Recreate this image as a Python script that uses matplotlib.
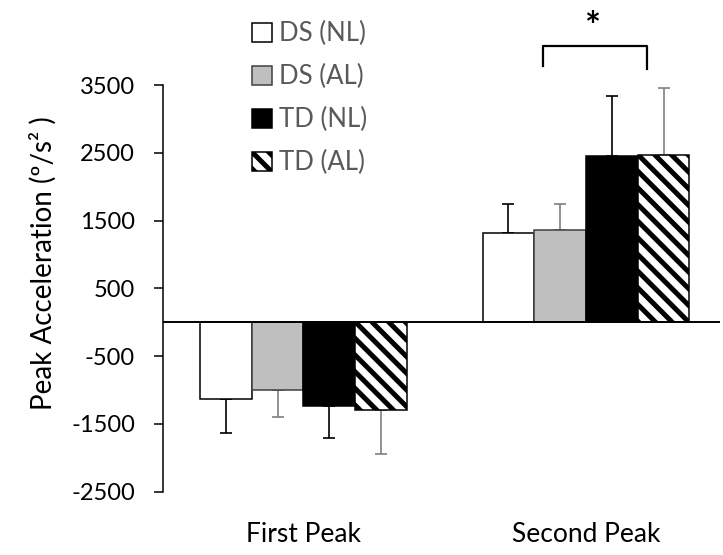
import matplotlib
matplotlib.use("Agg")
import matplotlib.pyplot as plt
import numpy as np

plt.rcParams['font.family'] = ['Lato', 'DejaVu Sans']
plt.rcParams['hatch.linewidth'] = 3.6

# Data
categories = ["First Peak", "Second Peak"]
series_names = ["DS (NL)", "DS (AL)", "TD (NL)", "TD (AL)"]
ds_nl = [-1130, 1316]
ds_al = [-1006, 1354]
td_nl = [-1242, 2446]
td_al = [-1290, 2460]
ds_nl_err = [497, 432]
ds_al_err = [392, 394]
td_nl_err = [466, 885]
td_al_err = [650, 1003]
y_ticks = [-2500, -1500, -500, 500, 1500, 2500, 3500]

values = [ds_nl, ds_al, td_nl, td_al]
errors = [ds_nl_err, ds_al_err, td_nl_err, td_al_err]

# Styles
face = ["white", "#BFBFBF", "black", "white"]
edge = ["black", "#404040", "black", "black"]
hatches = [None, None, None, "\\\\"]
err_col = ["black", "#7F7F7F", "black", "#7F7F7F"]

fig = plt.figure(figsize=(7.23, 5.55), dpi=100)
ax = fig.add_axes([163 / 723, (555 - 491.7) / 555, (720 - 163) / 723, (491.7 - 85) / 555])

x = np.arange(len(categories))
w = 0.183
handles = []
for i in range(4):
    pos = x + (i - 1.5) * w
    vals = np.array(values[i])
    errs = np.array(errors[i])
    b = ax.bar(pos, vals, width=w, color=face[i], edgecolor=edge[i],
               linewidth=1.1, hatch=hatches[i], zorder=2, label=series_names[i])
    handles.append(b)
    # one-sided error bars pointing away from zero
    lower = np.where(vals < 0, errs, 0)
    upper = np.where(vals > 0, errs, 0)
    ax.errorbar(pos, vals, yerr=[lower, upper], fmt="none", ecolor=err_col[i],
                elinewidth=1.2, capsize=4.5, capthick=1.2, zorder=1)

ax.axhline(0, color="black", linewidth=1.4, zorder=3)

ax.set_xlim(-0.497, 1.474)
ax.set_ylim(-2500, 3500)
ax.set_yticks(y_ticks)
ax.set_yticklabels([str(t) for t in y_ticks])
ax.set_xticks(x)
ax.set_xticklabels(categories)

for s in ["top", "right", "bottom"]:
    ax.spines[s].set_visible(False)
ax.spines["left"].set_linewidth(1.1)
ax.tick_params(axis="y", direction="out", length=6.2, width=1.1, labelsize=17, pad=14, colors="black")
ax.tick_params(axis="x", length=0, labelsize=19, pad=22, colors="black")

ax.set_ylabel("Peak Acceleration (º/s² )", fontsize=20, color="black", labelpad=10)
ax.yaxis.label.set_y(0.562)

# significance bracket between the TD groups
bx0, bx1 = 0.849, 1.215
ax.plot([bx0, bx0, bx1, bx1], [3773, 4068, 4068, 3740], color="black",
        linewidth=1.6, clip_on=False)
ax.text((bx0 + bx1) / 2 - 0.01, 4340, "*", ha="center", va="center", fontsize=27,
        fontweight="bold", clip_on=False)

leg = ax.legend(handles=handles, loc="upper left",
                bbox_to_anchor=(252 / 723, 1 - 21 / 555), bbox_transform=fig.transFigure,
                frameon=False, fontsize=18.5, labelcolor="#595959",
                handlelength=0.76, handleheight=0.76, handletextpad=0.28,
                labelspacing=0.7, borderpad=0, borderaxespad=0)

fig.savefig("out.png", dpi=100)
